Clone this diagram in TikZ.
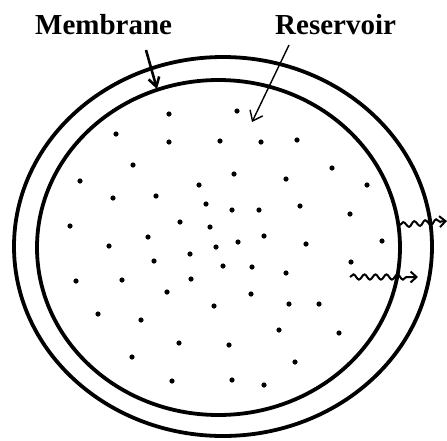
\documentclass[tikz,border=0pt]{standalone}
\usepackage{fontspec}
\setmainfont{Liberation Serif}
\usetikzlibrary{arrows.meta,decorations.pathmorphing}
\tikzset{
  wall/.style={line width=3.8pt},
  label/.style={anchor=base west,inner sep=0pt,font=\fontsize{29}{30}\selectfont\bfseries},
  wave/.style={line width=2pt,decorate,decoration={snake,amplitude=2.6pt,segment length=11pt,post length=7pt},
    -{Straight Barb[length=6pt,width=11pt,line width=2pt]}},
  dot/.style={fill=black}
}
\begin{document}
\begin{tikzpicture}[x=1pt,y=-1pt]
  \useasboundingbox (0,0) rectangle (447,440);
  \draw[wall] (223,246.5) ellipse [x radius=209,y radius=189.5];
  \draw[wall] (218.5,247.5) ellipse [x radius=181.5,y radius=167.5];
  \node[label] (membrane) at (35,34) {Membrane};
  \node[label] (reservoir) at (275,34) {Reservoir};
  \coordinate (mtip) at (157,89);
  \coordinate (rtip) at (252,122);
  \draw[line width=2.6pt,-{Straight Barb[length=9pt,width=11pt,line width=2.6pt]}] (146,50) -- (mtip);
  \draw[line width=1.4pt,-{Straight Barb[length=9pt,width=14pt,line width=1.4pt]}] (289,45) -- (rtip);
  \coordinate (w1a) at (400,225);
  \coordinate (w1b) at (447,221);
  \coordinate (w2a) at (350,277);
  \coordinate (w2b) at (418,277);
  \draw[wave] (w1a) -- (w1b);
  \draw[wave] (w2a) -- (w2b);
  \foreach \px/\py in {169/114,237/111,116/134,169/142,220/141,261/142,297/140,133/165,332/168,
    234/174,286/179,80/181,199/185,367/185,156/196,113/198,206/204,232/210,259/210,300/206,
    350/214,70/226,180/222,210/227,148/237,264/236,238/242,216/247,109/246,306/244,382/241,
    190/254,154/261,351/262,223/266,252/267,286/273,76/281,122/280,191/279,167/292,251/294,
    214/306,289/304,319/304,98/314,141/320,279/330,339/333,179/343,229/345,132/357,295/362,
    172/381,232/380,264/385}
    \fill[dot] (\px,\py) circle [radius=2.6pt];
\end{tikzpicture}
\end{document}
